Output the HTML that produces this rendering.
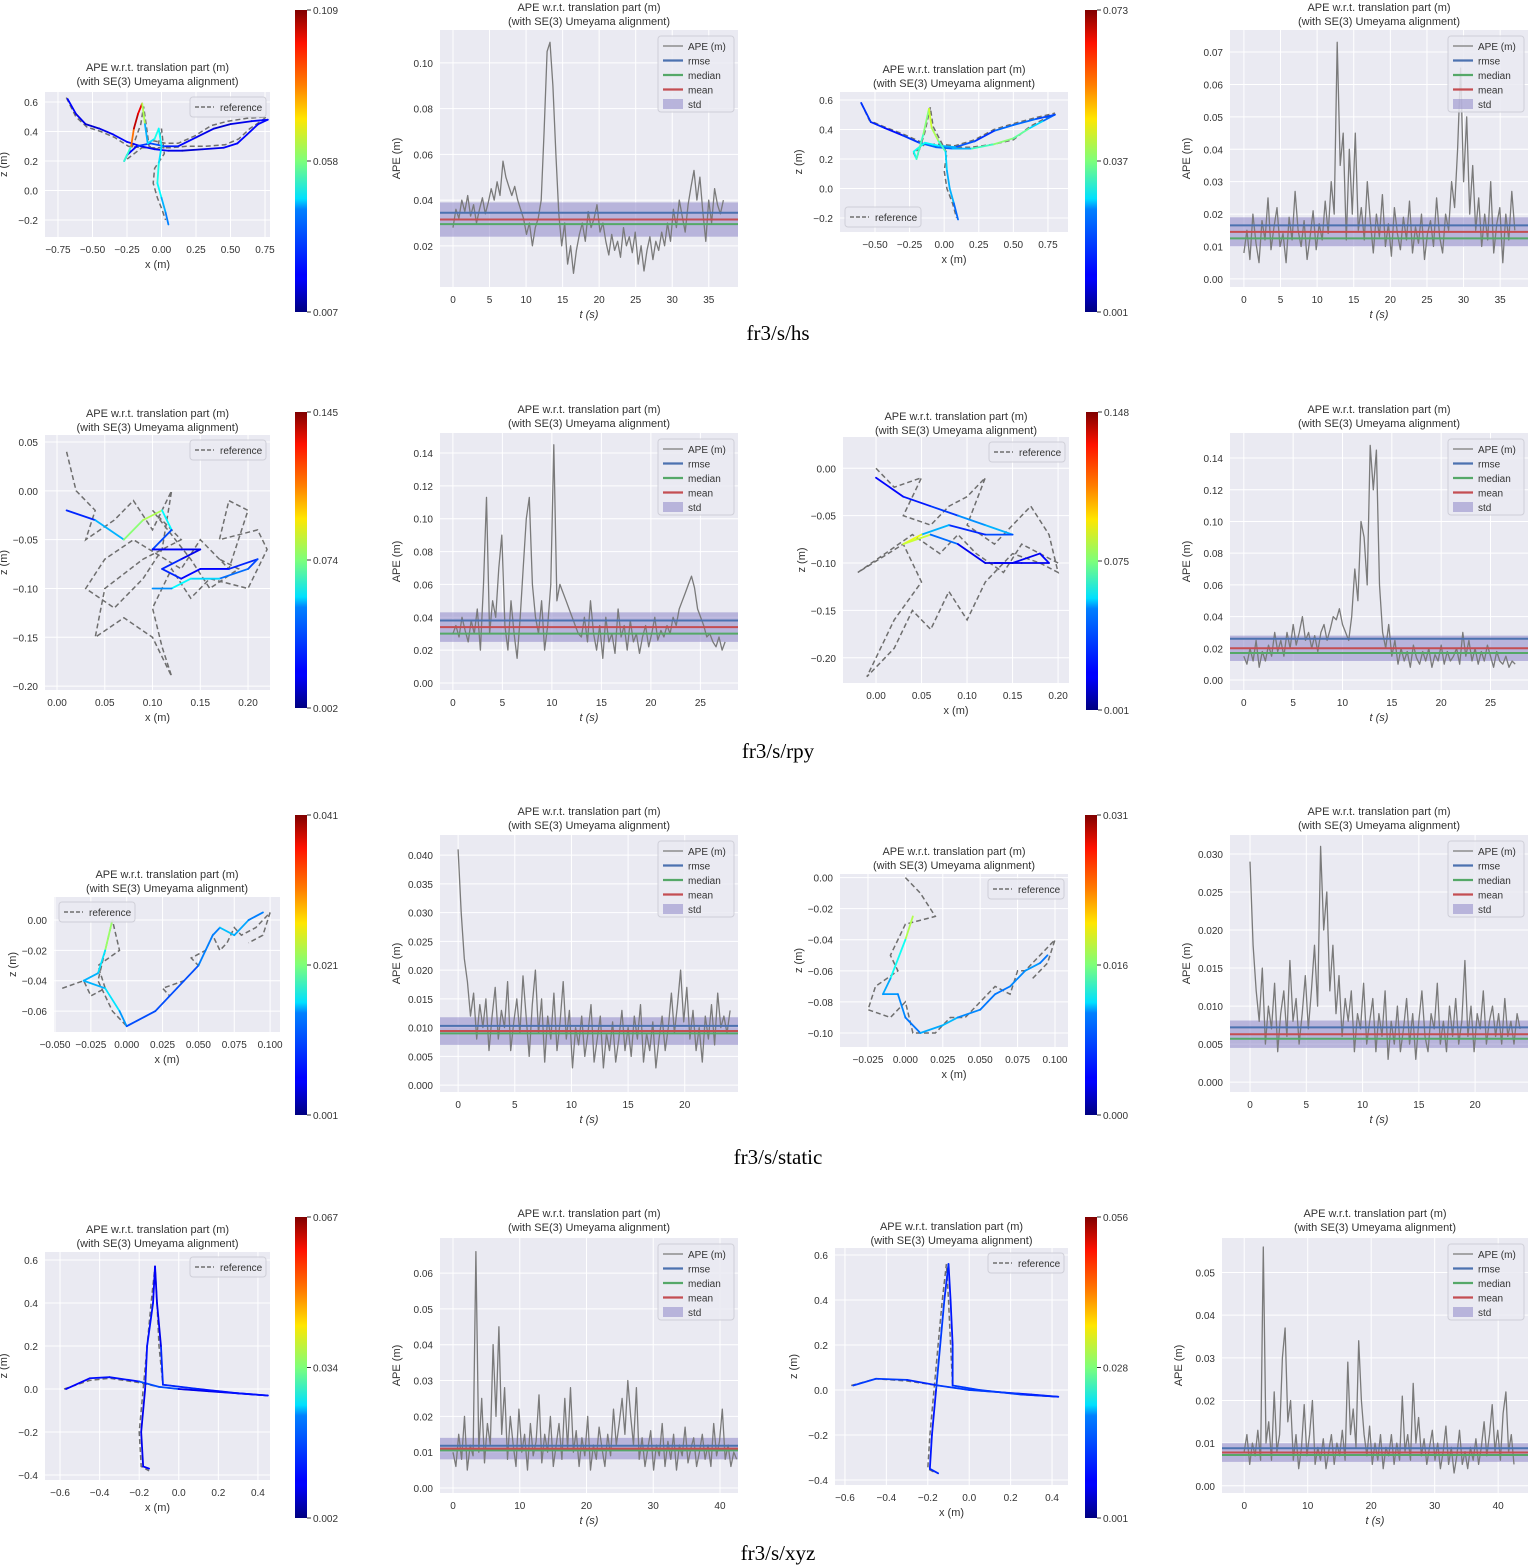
<!DOCTYPE html>
<html><head><meta charset="utf-8">
<style>
html,body{margin:0;padding:0;background:#fff;}
svg{display:block;font-family:"Liberation Sans","DejaVu Sans",sans-serif;}
</style></head>
<body>
<svg id="fig" width="1535" height="1566" viewBox="0 0 1535 1566" xmlns="http://www.w3.org/2000/svg">
<defs>
<linearGradient id="jet" x1="0" y1="1" x2="0" y2="0">
<stop offset="0" stop-color="#00007f"/><stop offset="0.11" stop-color="#0000ff"/><stop offset="0.125" stop-color="#0000ff"/>
<stop offset="0.34" stop-color="#0080ff"/><stop offset="0.375" stop-color="#00e0ff"/><stop offset="0.5" stop-color="#7dff7a"/>
<stop offset="0.64" stop-color="#ffe600"/><stop offset="0.75" stop-color="#ff8000"/><stop offset="0.89" stop-color="#ff1200"/><stop offset="1" stop-color="#7f0000"/>
</linearGradient>
</defs>
<text x="778" y="340" font-family="Liberation Serif,serif" font-size="21" text-anchor="middle">fr3/s/hs</text>
<text x="778" y="758" font-family="Liberation Serif,serif" font-size="21" text-anchor="middle">fr3/s/rpy</text>
<text x="778" y="1164" font-family="Liberation Serif,serif" font-size="21" text-anchor="middle">fr3/s/static</text>
<text x="778" y="1560" font-family="Liberation Serif,serif" font-size="21" text-anchor="middle">fr3/s/xyz</text>
</svg>
<script>
// ---------- APE time series data ----------
const hsApeA = [0.028,0.036,0.032,0.04,0.035,0.042,0.033,0.038,0.03,0.036,0.041,0.034,0.039,0.045,0.04,0.048,0.042,0.057,0.05,0.046,0.042,0.046,0.04,0.036,0.032,0.025,0.03,0.02,0.028,0.032,0.04,0.07,0.105,0.109,0.09,0.06,0.034,0.02,0.03,0.012,0.02,0.008,0.018,0.025,0.03,0.022,0.035,0.028,0.032,0.038,0.026,0.03,0.022,0.016,0.025,0.018,0.022,0.015,0.028,0.02,0.024,0.017,0.026,0.012,0.02,0.009,0.018,0.024,0.014,0.022,0.018,0.026,0.02,0.03,0.022,0.036,0.028,0.04,0.033,0.026,0.038,0.046,0.053,0.04,0.05,0.035,0.022,0.04,0.03,0.045,0.038,0.034,0.04];
const hsApeAStats = [0.0345,0.0295,0.0315,0.0075]; // rmse, median, mean, std
const hsApeB = [0.008,0.015,0.006,0.02,0.011,0.005,0.018,0.012,0.025,0.009,0.016,0.022,0.01,0.014,0.005,0.019,0.012,0.027,0.015,0.01,0.018,0.006,0.013,0.021,0.009,0.017,0.012,0.024,0.014,0.03,0.02,0.073,0.035,0.045,0.012,0.04,0.02,0.045,0.015,0.022,0.012,0.03,0.018,0.008,0.02,0.013,0.026,0.01,0.017,0.007,0.022,0.014,0.009,0.019,0.012,0.024,0.008,0.016,0.011,0.02,0.006,0.014,0.018,0.01,0.025,0.013,0.008,0.02,0.015,0.03,0.022,0.04,0.065,0.03,0.05,0.02,0.035,0.015,0.025,0.01,0.02,0.012,0.03,0.008,0.017,0.022,0.005,0.02,0.012,0.027,0.015];
const hsApeBStats = [0.0165,0.0125,0.0145,0.0045];
const rpyApeA = [0.03,0.035,0.028,0.04,0.032,0.025,0.038,0.03,0.045,0.02,0.06,0.113,0.03,0.05,0.04,0.07,0.09,0.035,0.02,0.05,0.03,0.015,0.04,0.07,0.1,0.113,0.06,0.04,0.03,0.05,0.02,0.035,0.06,0.145,0.05,0.06,0.055,0.05,0.045,0.04,0.035,0.03,0.028,0.04,0.025,0.05,0.03,0.02,0.035,0.015,0.04,0.025,0.03,0.018,0.045,0.028,0.035,0.02,0.038,0.025,0.03,0.018,0.028,0.035,0.022,0.03,0.04,0.026,0.032,0.028,0.035,0.03,0.04,0.035,0.045,0.05,0.055,0.06,0.065,0.058,0.045,0.04,0.035,0.028,0.03,0.025,0.022,0.028,0.02,0.025];
const rpyApeAStats = [0.038,0.030,0.034,0.009];
const rpyApeB = [0.015,0.01,0.02,0.012,0.025,0.008,0.018,0.012,0.022,0.015,0.03,0.018,0.025,0.015,0.03,0.02,0.035,0.022,0.03,0.04,0.025,0.03,0.02,0.028,0.018,0.03,0.035,0.025,0.032,0.04,0.038,0.045,0.035,0.03,0.025,0.04,0.07,0.05,0.1,0.09,0.06,0.148,0.12,0.145,0.06,0.03,0.02,0.035,0.015,0.025,0.01,0.02,0.012,0.018,0.008,0.022,0.014,0.01,0.018,0.012,0.02,0.008,0.016,0.012,0.022,0.01,0.018,0.012,0.015,0.02,0.01,0.03,0.015,0.025,0.012,0.02,0.01,0.018,0.012,0.022,0.015,0.008,0.018,0.012,0.01,0.015,0.008,0.012,0.01];
const rpyApeBStats = [0.026,0.017,0.020,0.008];
const staticApeA = [0.041,0.03,0.022,0.018,0.012,0.016,0.008,0.014,0.01,0.015,0.006,0.012,0.017,0.008,0.013,0.01,0.018,0.006,0.011,0.015,0.009,0.019,0.012,0.005,0.014,0.02,0.009,0.015,0.004,0.012,0.008,0.016,0.006,0.011,0.018,0.008,0.013,0.003,0.01,0.007,0.012,0.005,0.009,0.014,0.004,0.008,0.012,0.003,0.009,0.006,0.011,0.004,0.008,0.013,0.006,0.01,0.005,0.012,0.008,0.014,0.004,0.009,0.006,0.011,0.003,0.008,0.012,0.006,0.01,0.016,0.009,0.014,0.02,0.011,0.017,0.008,0.013,0.006,0.01,0.004,0.012,0.008,0.014,0.007,0.016,0.01,0.012,0.009,0.013];
const staticApeAStats = [0.0103,0.0090,0.0094,0.0024];
const staticApeB = [0.029,0.018,0.012,0.008,0.015,0.005,0.01,0.007,0.013,0.004,0.009,0.012,0.006,0.016,0.008,0.011,0.005,0.009,0.014,0.007,0.012,0.018,0.01,0.031,0.02,0.025,0.012,0.018,0.009,0.014,0.006,0.011,0.008,0.012,0.004,0.009,0.007,0.013,0.005,0.008,0.011,0.004,0.009,0.006,0.012,0.003,0.008,0.005,0.01,0.004,0.007,0.011,0.005,0.009,0.003,0.008,0.012,0.006,0.004,0.009,0.007,0.013,0.005,0.008,0.004,0.01,0.006,0.011,0.005,0.008,0.016,0.006,0.01,0.004,0.009,0.007,0.012,0.005,0.008,0.01,0.006,0.009,0.005,0.011,0.006,0.008,0.005,0.009,0.007];
const staticApeBStats = [0.0072,0.0057,0.0063,0.0018];
const xyzApeA = [0.01,0.006,0.015,0.008,0.02,0.005,0.012,0.009,0.066,0.01,0.025,0.007,0.018,0.012,0.04,0.02,0.045,0.015,0.028,0.008,0.02,0.012,0.006,0.022,0.01,0.015,0.005,0.018,0.009,0.013,0.026,0.007,0.015,0.01,0.02,0.006,0.012,0.018,0.008,0.025,0.011,0.028,0.01,0.016,0.006,0.014,0.009,0.02,0.005,0.012,0.008,0.017,0.011,0.006,0.015,0.009,0.022,0.012,0.018,0.025,0.015,0.03,0.02,0.012,0.028,0.008,0.014,0.006,0.011,0.016,0.005,0.012,0.009,0.018,0.006,0.013,0.008,0.015,0.005,0.012,0.009,0.017,0.007,0.011,0.014,0.006,0.01,0.015,0.008,0.012,0.006,0.018,0.009,0.013,0.022,0.008,0.012,0.006,0.01,0.008];
const xyzApeAStats = [0.0118,0.0105,0.0110,0.0030];
const xyzApeB = [0.008,0.012,0.005,0.01,0.007,0.013,0.006,0.056,0.01,0.015,0.006,0.022,0.008,0.012,0.03,0.037,0.015,0.02,0.006,0.012,0.004,0.009,0.019,0.007,0.012,0.02,0.005,0.009,0.006,0.011,0.004,0.008,0.012,0.005,0.01,0.007,0.013,0.006,0.029,0.012,0.018,0.009,0.034,0.02,0.012,0.007,0.014,0.005,0.01,0.006,0.012,0.004,0.009,0.007,0.012,0.005,0.01,0.006,0.021,0.008,0.012,0.006,0.024,0.01,0.016,0.007,0.011,0.005,0.009,0.013,0.006,0.01,0.004,0.008,0.014,0.005,0.009,0.003,0.007,0.013,0.005,0.008,0.004,0.009,0.006,0.011,0.005,0.009,0.015,0.007,0.012,0.019,0.008,0.013,0.006,0.017,0.022,0.008,0.012,0.005];
const xyzApeBStats = [0.0088,0.0072,0.0078,0.0022];

// ---------- trajectory data [x, z] ----------
const hsRefA = [[-0.69,0.63],[-0.62,0.5],[-0.54,0.43],[-0.44,0.4],[-0.34,0.36],[-0.24,0.3],[-0.14,0.29],[-0.04,0.29],[0.06,0.29],[0.18,0.3],[0.32,0.3],[0.46,0.31],[0.56,0.35],[0.64,0.42],[0.72,0.47],[0.76,0.5],[0.62,0.49],[0.48,0.47],[0.36,0.44],[0.24,0.37],[0.12,0.32],[0.03,0.32],[-0.07,0.34],[-0.17,0.27],[-0.24,0.22],[-0.27,0.2],[-0.2,0.32],[-0.15,0.45],[-0.13,0.57],[-0.11,0.44],[-0.09,0.3],[-0.03,0.28],[0.0,0.42],[0.02,0.25],[-0.05,0.15],[-0.06,0.05],[-0.03,-0.05],[0.0,-0.12],[0.03,-0.2]];
const hsEstA = [[-0.68,0.62],[-0.62,0.52],[-0.55,0.45],[-0.45,0.42],[-0.35,0.38],[-0.25,0.33],[-0.15,0.3],[-0.05,0.28],[0.05,0.27],[0.15,0.27],[0.3,0.28],[0.45,0.29],[0.55,0.32],[0.62,0.38],[0.7,0.45],[0.77,0.48],[0.65,0.47],[0.5,0.45],[0.38,0.42],[0.25,0.36],[0.12,0.3],[0.02,0.3],[-0.08,0.32],[-0.18,0.3],[-0.25,0.24],[-0.27,0.2],[-0.22,0.3],[-0.2,0.42],[-0.17,0.52],[-0.14,0.59],[-0.12,0.45],[-0.1,0.32],[-0.05,0.35],[-0.02,0.42],[0.0,0.3],[-0.02,0.18],[-0.03,0.05],[0.0,-0.05],[0.03,-0.15],[0.05,-0.23]];
const hsErrA = [0.02,0.02,0.015,0.015,0.02,0.02,0.02,0.02,0.02,0.015,0.015,0.02,0.02,0.02,0.02,0.02,0.02,0.015,0.015,0.02,0.02,0.025,0.03,0.02,0.02,0.03,0.07,0.1,0.105,0.09,0.035,0.04,0.045,0.05,0.04,0.045,0.05,0.04,0.035,0.03];
const hsRefB = [[-0.6,0.58],[-0.54,0.46],[-0.44,0.42],[-0.3,0.37],[-0.18,0.32],[-0.06,0.29],[0.06,0.28],[0.2,0.28],[0.36,0.3],[0.5,0.33],[0.62,0.42],[0.72,0.47],[0.8,0.51],[0.66,0.48],[0.5,0.44],[0.36,0.4],[0.22,0.33],[0.08,0.29],[-0.04,0.3],[-0.14,0.3],[-0.22,0.24],[-0.2,0.2],[-0.14,0.38],[-0.1,0.55],[-0.08,0.42],[-0.03,0.33],[0.02,0.24],[0.0,0.12],[0.02,0.0],[0.06,-0.1],[0.09,-0.2]];
const hsEstB = [[-0.6,0.58],[-0.53,0.45],[-0.43,0.41],[-0.3,0.36],[-0.18,0.31],[-0.06,0.28],[0.06,0.27],[0.2,0.27],[0.36,0.3],[0.5,0.34],[0.62,0.41],[0.72,0.46],[0.8,0.5],[0.66,0.47],[0.5,0.43],[0.36,0.39],[0.22,0.32],[0.08,0.28],[-0.04,0.29],[-0.14,0.31],[-0.22,0.25],[-0.2,0.2],[-0.15,0.37],[-0.11,0.54],[-0.09,0.41],[-0.04,0.32],[0.01,0.25],[0.02,0.12],[0.04,0.0],[0.07,-0.1],[0.1,-0.21]];
const hsErrB = [0.012,0.015,0.01,0.012,0.015,0.02,0.015,0.03,0.035,0.04,0.03,0.02,0.015,0.015,0.02,0.015,0.012,0.02,0.025,0.03,0.028,0.03,0.035,0.04,0.045,0.035,0.03,0.02,0.025,0.02,0.015];
const rpyRefA = [[0.01,0.04],[0.02,0.0],[0.04,-0.02],[0.03,-0.05],[0.06,-0.03],[0.08,-0.01],[0.1,-0.04],[0.12,0.0],[0.11,-0.06],[0.09,-0.09],[0.06,-0.12],[0.03,-0.1],[0.05,-0.07],[0.08,-0.05],[0.13,-0.08],[0.15,-0.05],[0.18,-0.08],[0.2,-0.02],[0.18,-0.01],[0.17,-0.05],[0.21,-0.04],[0.22,-0.06],[0.2,-0.1],[0.16,-0.09],[0.14,-0.11],[0.12,-0.08],[0.1,-0.12],[0.11,-0.16],[0.12,-0.19],[0.1,-0.15],[0.07,-0.13],[0.04,-0.15],[0.05,-0.1],[0.09,-0.07],[0.13,-0.05],[0.1,-0.02],[0.14,-0.07],[0.16,-0.1],[0.19,-0.08],[0.17,-0.07]];
const rpyEstA = [[0.01,-0.02],[0.04,-0.03],[0.07,-0.05],[0.09,-0.03],[0.11,-0.02],[0.12,-0.04],[0.1,-0.06],[0.13,-0.06],[0.15,-0.06],[0.13,-0.07],[0.11,-0.08],[0.13,-0.09],[0.15,-0.08],[0.18,-0.08],[0.21,-0.07],[0.2,-0.08],[0.17,-0.09],[0.14,-0.09],[0.12,-0.1],[0.1,-0.1]];
const rpyErrA = [0.02,0.03,0.06,0.09,0.07,0.04,0.02,0.02,0.015,0.02,0.03,0.02,0.02,0.02,0.03,0.03,0.04,0.06,0.05,0.03];
const rpyRefB = [[0.0,0.0],[0.02,-0.02],[0.05,-0.01],[0.03,-0.05],[0.06,-0.06],[0.08,-0.04],[0.1,-0.03],[0.12,-0.01],[0.1,-0.06],[0.13,-0.08],[0.15,-0.06],[0.17,-0.04],[0.19,-0.07],[0.2,-0.11],[0.18,-0.1],[0.15,-0.09],[0.12,-0.12],[0.1,-0.16],[0.08,-0.13],[0.06,-0.17],[0.04,-0.15],[0.02,-0.19],[-0.01,-0.22],[0.02,-0.16],[0.05,-0.12],[0.03,-0.08],[-0.02,-0.11],[0.01,-0.09],[0.04,-0.07],[0.07,-0.09],[0.09,-0.07],[0.11,-0.09],[0.14,-0.11],[0.16,-0.08],[0.18,-0.09],[0.2,-0.1]];
const rpyEstB = [[0.0,-0.01],[0.03,-0.03],[0.06,-0.04],[0.09,-0.05],[0.12,-0.06],[0.15,-0.07],[0.12,-0.07],[0.08,-0.06],[0.05,-0.07],[0.03,-0.08],[0.06,-0.07],[0.09,-0.08],[0.12,-0.1],[0.15,-0.1],[0.18,-0.09],[0.19,-0.1],[0.16,-0.1],[0.13,-0.1]];
const rpyErrB = [0.02,0.02,0.025,0.03,0.05,0.04,0.02,0.03,0.06,0.12,0.05,0.02,0.015,0.015,0.02,0.02,0.015,0.02];
const staticRefA = [[-0.045,-0.045],[-0.03,-0.04],[-0.025,-0.05],[-0.015,-0.045],[-0.02,-0.03],[-0.005,-0.02],[-0.01,0.0],[-0.015,-0.02],[-0.02,-0.04],[-0.01,-0.06],[0.0,-0.07],[0.01,-0.065],[0.02,-0.06],[0.03,-0.05],[0.025,-0.045],[0.04,-0.04],[0.05,-0.03],[0.045,-0.025],[0.055,-0.02],[0.06,-0.01],[0.065,-0.02],[0.07,-0.015],[0.075,-0.005],[0.08,-0.01],[0.09,-0.005],[0.1,0.005],[0.095,-0.01],[0.085,-0.015]];
const staticEstA = [[-0.01,0.0],[-0.015,-0.02],[-0.02,-0.035],[-0.03,-0.04],[-0.015,-0.045],[-0.005,-0.06],[0.0,-0.07],[0.02,-0.06],[0.035,-0.045],[0.05,-0.03],[0.055,-0.02],[0.06,-0.01],[0.065,-0.005],[0.075,-0.01],[0.085,-0.0],[0.095,0.005]];
const staticErrA = [0.028,0.016,0.014,0.012,0.014,0.016,0.008,0.01,0.008,0.01,0.012,0.01,0.012,0.015,0.01,0.012];
const staticRefB = [[0.0,-0.0],[0.01,-0.01],[0.02,-0.025],[0.0,-0.03],[-0.01,-0.05],[-0.005,-0.06],[-0.02,-0.07],[-0.025,-0.085],[-0.01,-0.09],[0.0,-0.08],[0.005,-0.1],[0.02,-0.1],[0.03,-0.09],[0.04,-0.09],[0.05,-0.08],[0.06,-0.07],[0.07,-0.075],[0.075,-0.06],[0.08,-0.06],[0.09,-0.05],[0.1,-0.04],[0.095,-0.055],[0.085,-0.065]];
const staticEstB = [[0.005,-0.025],[0.0,-0.04],[-0.01,-0.065],[-0.015,-0.075],[-0.005,-0.075],[0.0,-0.09],[0.01,-0.1],[0.025,-0.095],[0.035,-0.09],[0.05,-0.085],[0.06,-0.075],[0.07,-0.07],[0.08,-0.06],[0.09,-0.055],[0.095,-0.05]];
const staticErrB = [0.02,0.014,0.01,0.008,0.009,0.007,0.008,0.01,0.009,0.007,0.008,0.007,0.009,0.008,0.007];
const xyzRefA = [[-0.58,0.0],[-0.45,0.04],[-0.35,0.05],[-0.2,0.03],[-0.1,0.01],[0.0,0.0],[0.15,-0.01],[0.3,-0.02],[0.44,-0.03],[0.3,-0.02],[0.1,-0.0],[-0.08,0.02],[-0.1,0.2],[-0.11,0.4],[-0.12,0.57],[-0.14,0.4],[-0.16,0.2],[-0.18,0.0],[-0.2,-0.2],[-0.19,-0.36],[-0.15,-0.38]];
const xyzEstA = [[-0.57,0.0],[-0.45,0.05],[-0.35,0.055],[-0.2,0.035],[-0.1,0.01],[0.0,0.0],[0.15,-0.01],[0.3,-0.02],[0.45,-0.03],[0.3,-0.02],[0.1,0.0],[-0.08,0.02],[-0.09,0.2],[-0.11,0.4],[-0.12,0.57],[-0.13,0.4],[-0.16,0.2],[-0.17,0.0],[-0.19,-0.2],[-0.18,-0.36],[-0.15,-0.37]];
const xyzErrA = [0.01,0.01,0.012,0.01,0.02,0.01,0.008,0.01,0.01,0.012,0.01,0.015,0.01,0.008,0.01,0.01,0.012,0.01,0.008,0.01,0.01];
const xyzRefB = [[-0.57,0.02],[-0.45,0.05],[-0.3,0.04],[-0.15,0.02],[0.0,0.0],[0.15,-0.01],[0.3,-0.02],[0.42,-0.03],[0.25,-0.02],[0.05,0.0],[-0.08,0.02],[-0.09,0.2],[-0.1,0.4],[-0.11,0.56],[-0.13,0.4],[-0.15,0.2],[-0.17,0.0],[-0.19,-0.2],[-0.2,-0.35],[-0.16,-0.37]];
const xyzEstB = [[-0.56,0.02],[-0.45,0.05],[-0.3,0.045],[-0.15,0.02],[0.0,0.0],[0.15,-0.01],[0.3,-0.02],[0.43,-0.03],[0.25,-0.02],[0.05,0.0],[-0.08,0.02],[-0.08,0.2],[-0.09,0.4],[-0.1,0.56],[-0.12,0.4],[-0.14,0.2],[-0.16,0.0],[-0.18,-0.2],[-0.19,-0.35],[-0.15,-0.37]];
const xyzErrB = [0.01,0.012,0.01,0.01,0.012,0.01,0.008,0.01,0.01,0.012,0.01,0.01,0.008,0.01,0.01,0.012,0.01,0.008,0.01,0.01];

// ---------- tick arrays ----------
const hsApeAYTicks=[0.02,0.04,0.06,0.08,0.10], hsTTicks=[0,5,10,15,20,25,30,35];
const hsApeBYTicks=[0,0.01,0.02,0.03,0.04,0.05,0.06,0.07];
const rpyApeYTicks=[0,0.02,0.04,0.06,0.08,0.10,0.12,0.14], rpyTTicks=[0,5,10,15,20,25];
const staticApeAYTicks=[0,0.005,0.01,0.015,0.02,0.025,0.03,0.035,0.04], staticTTicks=[0,5,10,15,20];
const staticApeBYTicks=[0,0.005,0.01,0.015,0.02,0.025,0.03];
const xyzApeAYTicks=[0,0.01,0.02,0.03,0.04,0.05,0.06], xyzTTicks=[0,10,20,30,40];
const xyzApeBYTicks=[0,0.01,0.02,0.03,0.04,0.05];
// colorbar tick values [min, mid, max]
const hsCbA=[0.007,0.058,0.109], hsCbB=[0.001,0.037,0.073];
const rpyCbA=[0.002,0.074,0.145], rpyCbB=[0.001,0.075,0.148];
const staticCbA=[0.001,0.021,0.041], staticCbB=[0.000,0.016,0.031];
const xyzCbA=[0.002,0.034,0.067], xyzCbB=[0.001,0.028,0.056];

const NS='http://www.w3.org/2000/svg';
const svg=document.getElementById('fig');
function mk(tag,attrs,parent){const e=document.createElementNS(NS,tag);for(const k in attrs)e.setAttribute(k,attrs[k]);(parent||svg).appendChild(e);return e;}
function txt(parent,x,y,s,size,anchor,extra){const t=mk('text',Object.assign({x:x,y:y,'font-size':size,'text-anchor':anchor||'middle',fill:'#333'},extra||{}),parent);t.textContent=s;return t;}
function fmt(v,d){const s=Math.abs(v).toFixed(d);return (v<-1e-12?'\u2212':'')+s;}
function jet(t){t=Math.max(0,Math.min(1,t));const r=Math.min(4*t-1.5,-4*t+4.5),g=Math.min(4*t-0.5,-4*t+3.5),b=Math.min(4*t+0.5,-4*t+2.5);const c=v=>Math.round(255*Math.max(0,Math.min(1,v)));return 'rgb('+c(r)+','+c(g)+','+c(b)+')';}

function title(g,cx,y){txt(g,cx,y,'APE w.r.t. translation part (m)',11);txt(g,cx,y+14,'(with SE(3) Umeyama alignment)',11);}

function apePanel(name,box,xd,yd,xt,yt,ydec,T,vals,stats,titleY){
  const [x0,y0,x1,y1]=box;
  const g=mk('g',{});
  
  
  const xs=v=>x0+(v-xd[0])/(xd[1]-xd[0])*(x1-x0);
  const ys=v=>y1-(v-yd[0])/(yd[1]-yd[0])*(y1-y0);
  title(g,(x0+x1)/2,titleY);
  const bg=mk('rect',{x:x0,y:y0,width:x1-x0,height:y1-y0,fill:'#eaeaf2'},g);
  
  
  xt.forEach(v=>{mk('line',{x1:xs(v),x2:xs(v),y1:y0,y2:y1,stroke:'#fff','stroke-width':1},g);txt(g,xs(v),y1+16,String(v),10);});
  yt.forEach(v=>{mk('line',{x1:x0,x2:x1,y1:ys(v),y2:ys(v),stroke:'#fff','stroke-width':1},g);txt(g,x0-7,ys(v)+4,fmt(v,ydec),10,'end');});
  const band=mk('rect',{x:x0,y:ys(stats[2]+stats[3]),width:x1-x0,height:ys(stats[2]-stats[3])-ys(stats[2]+stats[3]),fill:'#8e86c9','fill-opacity':0.55},g);
  
  
  const pts=vals.map((v,i)=>xs(i*T/(vals.length-1)).toFixed(1)+','+ys(v).toFixed(1)).join(' ');
  const line=mk('polyline',{points:pts,fill:'none',stroke:'#7a7a7a','stroke-width':1.3,'stroke-linejoin':'round'},g);
  
  
  const cols=['#4c72b0','#55a868','#c44e52'];const idx=[0,1,2];
  idx.forEach(i=>{const l=mk('line',{x1:x0,x2:x1,y1:ys(stats[i]),y2:ys(stats[i]),stroke:cols[i],'stroke-width':2},g);
    
    });
  const lx=x1-80,ly=y0+6;
  const lg=mk('g',{},g);
  
  
  mk('rect',{x:lx,y:ly,width:76,height:76,rx:3,fill:'#eaeaf2','fill-opacity':0.85,stroke:'#cfcfd8'},lg);
  const labels=['APE (m)','rmse','median','mean','std'];
  labels.forEach((s,i)=>{const yy=ly+10+i*14.5;
    if(i<4) mk('line',{x1:lx+5,x2:lx+25,y1:yy,y2:yy,stroke:i==0?'#7a7a7a':cols[i-1],'stroke-width':i==0?1.3:2.2},lg);
    else mk('rect',{x:lx+5,y:yy-5,width:20,height:10,fill:'#8e86c9','fill-opacity':0.55},lg);
    txt(lg,lx+30,yy+4,s,10,'start');});
  txt(g,(x0+x1)/2,y1+31,'t (s)',11,'middle',{'font-style':'italic'});
  txt(g,x0-40,(y0+y1)/2,'APE (m)',11,'middle',{transform:'rotate(-90 '+(x0-40)+' '+((y0+y1)/2)+')'});
}

function trajPanel(name,box,xd,yd,xt,yt,xdec,ydec,ref,est,err,cbVals,cb,legPos,titleY){
  const [x0,y0,x1,y1]=box;
  const crange=[cbVals[0],cbVals[2]];
  const g=mk('g',{});
  
  
  const xs=v=>x0+(v-xd[0])/(xd[1]-xd[0])*(x1-x0);
  const ys=v=>y1-(v-yd[0])/(yd[1]-yd[0])*(y1-y0);
  title(g,(x0+x1)/2,titleY);
  const bg=mk('rect',{x:x0,y:y0,width:x1-x0,height:y1-y0,fill:'#eaeaf2'},g);
  
  
  xt.forEach(v=>{mk('line',{x1:xs(v),x2:xs(v),y1:y0,y2:y1,stroke:'#fff','stroke-width':1},g);txt(g,xs(v),y1+16,fmt(v,xdec),10);});
  yt.forEach(v=>{mk('line',{x1:x0,x2:x1,y1:ys(v),y2:ys(v),stroke:'#fff','stroke-width':1},g);txt(g,x0-7,ys(v)+4,fmt(v,ydec),10,'end');});
  const rp=ref.map(p=>xs(p[0]).toFixed(1)+','+ys(p[1]).toFixed(1)).join(' ');
  const rl=mk('polyline',{points:rp,fill:'none',stroke:'#6e6e6e','stroke-width':1.5,'stroke-dasharray':'5,3'},g);
  
  
  const eg=mk('g',{},g);
  
  
  for(let i=0;i<est.length-1;i++){const e=(err[i]+err[i+1])/2;const t=(e-crange[0])/(crange[1]-crange[0]);
    mk('line',{x1:xs(est[i][0]),y1:ys(est[i][1]),x2:xs(est[i+1][0]),y2:ys(est[i+1][1]),stroke:jet(t),'stroke-width':1.8,'stroke-linecap':'round'},eg);}
  let lx,ly;
  if(legPos==='tr'){lx=x1-80;ly=y0+5;} else if(legPos==='tl'){lx=x0+5;ly=y0+5;} else {lx=x0+5;ly=y1-25;}
  const lg=mk('g',{},g);
  
  
  mk('rect',{x:lx,y:ly,width:76,height:20,rx:3,fill:'#eaeaf2','fill-opacity':0.85,stroke:'#cfcfd8'},lg);
  mk('line',{x1:lx+5,x2:lx+24,y1:ly+10,y2:ly+10,stroke:'#6e6e6e','stroke-width':1.5,'stroke-dasharray':'4,2'},lg);
  txt(lg,lx+30,ly+14,'reference',10,'start');
  txt(g,(x0+x1)/2,y1+31,'x (m)',11,'middle');
  txt(g,x0-38,(y0+y1)/2,'z (m)',11,'middle',{transform:'rotate(-90 '+(x0-38)+' '+((y0+y1)/2)+')'});
  const [cx,cy0,cy1]=cb;
  const cbr=mk('rect',{x:cx,y:cy0,width:12,height:cy1-cy0,fill:'url(#jet)'},g);
  
  
  [[cbVals[2],cy0],[cbVals[1],(cy0+cy1)/2],[cbVals[0],cy1]].forEach(a=>{mk('line',{x1:cx+12,x2:cx+16,y1:a[1],y2:a[1],stroke:'#333'},g);txt(g,cx+18,a[1]+4,a[0].toFixed(3),10,'start');});
}

apePanel('ape-hs-a',[440,30,738,287],[-1.78,39.0],[0.002,0.1144],hsTTicks,hsApeAYTicks,2,37,hsApeA,hsApeAStats,11);
apePanel('ape-hs-b',[1230,30,1528,287],[-1.9,38.8],[-0.0025,0.0768],hsTTicks,hsApeBYTicks,2,37,hsApeB,hsApeBStats,11);
apePanel('ape-rpy-a',[440,433,738,690],[-1.3,28.8],[-0.0043,0.1522],rpyTTicks,rpyApeYTicks,2,27.5,rpyApeA,rpyApeAStats,413);
apePanel('ape-rpy-b',[1230,433,1528,690],[-1.4,28.8],[-0.0063,0.1558],rpyTTicks,rpyApeYTicks,2,27.5,rpyApeB,rpyApeBStats,413);
apePanel('ape-static-a',[440,835,738,1092],[-1.6,24.7],[-0.0012,0.0435],staticTTicks,staticApeAYTicks,3,24,staticApeA,staticApeAStats,815);
apePanel('ape-static-b',[1230,835,1528,1092],[-1.78,24.7],[-0.0013,0.0325],staticTTicks,staticApeBYTicks,3,24,staticApeB,staticApeBStats,815);
apePanel('ape-xyz-a',[440,1238,738,1493],[-1.95,42.7],[-0.0014,0.0698],xyzTTicks,xyzApeAYTicks,2,42.5,xyzApeA,xyzApeAStats,1217);
apePanel('ape-xyz-b',[1222,1238,1528,1493],[-3.5,44.7],[-0.0017,0.0581],xyzTTicks,xyzApeBYTicks,2,42.5,xyzApeB,xyzApeBStats,1217);

trajPanel('traj-hs-a',[45,92,270,237],[-0.844,0.786],[-0.315,0.668],[-0.75,-0.5,-0.25,0,0.25,0.5,0.75],[-0.2,0,0.2,0.4,0.6],2,1,hsRefA,hsEstA,hsErrA,hsCbA,[295,10,312],'tr',71);
trajPanel('traj-hs-b',[840,92,1068,232],[-0.753,0.895],[-0.295,0.654],[-0.5,-0.25,0,0.25,0.5,0.75],[-0.2,0,0.2,0.4,0.6],2,1,hsRefB,hsEstB,hsErrB,hsCbB,[1085,10,312],'bl',73);
trajPanel('traj-rpy-a',[45,435,270,690],[-0.0126,0.223],[-0.204,0.0572],[0,0.05,0.1,0.15,0.2],[-0.2,-0.15,-0.1,-0.05,0,0.05],2,2,rpyRefA,rpyEstA,rpyErrA,rpyCbA,[295,412,708],'tr',417);
trajPanel('traj-rpy-b',[843,437,1069,683],[-0.0363,0.212],[-0.2266,0.033],[0,0.05,0.1,0.15,0.2],[-0.2,-0.15,-0.1,-0.05,0],2,2,rpyRefB,rpyEstB,rpyErrB,rpyCbB,[1086,412,710],'tr',420);
trajPanel('traj-static-a',[54,897,280,1032],[-0.0507,0.1069],[-0.0738,0.0152],[-0.05,-0.025,0,0.025,0.05,0.075,0.1],[-0.06,-0.04,-0.02,0],3,2,staticRefA,staticEstA,staticErrA,staticCbA,[295,815,1115],'tl',878);
trajPanel('traj-static-b',[840,874,1068,1047],[-0.0437,0.1087],[-0.109,0.0023],[-0.025,0,0.025,0.05,0.075,0.1],[-0.1,-0.08,-0.06,-0.04,-0.02,0],3,2,staticRefB,staticEstB,staticErrB,staticCbB,[1085,815,1115],'tr',855);
trajPanel('traj-xyz-a',[45,1252,270,1480],[-0.676,0.461],[-0.423,0.637],[-0.6,-0.4,-0.2,0,0.2,0.4],[-0.4,-0.2,0,0.2,0.4,0.6],1,1,xyzRefA,xyzEstA,xyzErrA,xyzCbA,[295,1217,1518],'tr',1233);
trajPanel('traj-xyz-b',[835,1248,1068,1485],[-0.648,0.477],[-0.422,0.631],[-0.6,-0.4,-0.2,0,0.2,0.4],[-0.4,-0.2,0,0.2,0.4,0.6],1,1,xyzRefB,xyzEstB,xyzErrB,xyzCbB,[1085,1217,1518],'tr',1230);
</script>
</body></html>
